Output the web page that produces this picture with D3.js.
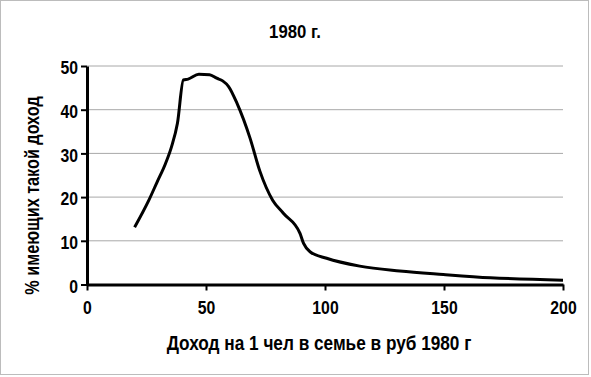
<!DOCTYPE html>
<html>
<head>
<meta charset="utf-8">
<script src="https://cdn.jsdelivr.net/npm/d3@7"></script>
<style>
  body { margin: 0; background: #fff; }
  text { font-family: "Liberation Sans", Arial, sans-serif; font-weight: bold; fill: #000; }
</style>
</head>
<body>
<div id="chart"></div>
<script>
// Доход на 1 чел (руб) и доля имеющих такой доход (%)
const income = [20, 26, 29.5, 33, 35.5, 38, 40.5, 42.5, 47, 51.5, 54.5, 57, 59.5, 63, 68.5, 72.6, 78, 82.5, 89.5, 91, 93.7, 100.7, 114.6, 131.4, 149.7, 169.5, 200];
const share  = [13.1, 19.3, 23.5, 27.7, 31.5, 36.9, 46.8, 47, 48.1, 48, 47.2, 46.6, 45.3, 41.5, 33.5, 26, 19.3, 16.3, 11.7, 9.4, 7.5, 6.0, 4.2, 3.1, 2.3, 1.55, 1.0];
const xTicks = [0, 50, 100, 150, 200];
const yTicks = [0, 10, 20, 30, 40, 50];

const width = 591, height = 377;
const margin = { left: 87, right: 28, top: 66, bottom: 92.5 };

// сжатие шрифта по ширине (в оригинале узкий шрифт)
function condense(sel, k) {
    sel.each(function () {
        const w = this.getComputedTextLength();
        d3.select(this)
            .attr("textLength", w * k)
            .attr("lengthAdjust", "spacingAndGlyphs");
    });
}

const svg = d3.select("#chart").append("svg")
    .attr("width", width)
    .attr("height", height);

// рамка вокруг диаграммы
svg.append("rect")
    .attr("x", 0.5).attr("y", 0.5)
    .attr("width", 588).attr("height", 374)
    .attr("fill", "none")
    .attr("stroke", "#bcbcbc");

const x = d3.scaleLinear().domain([0, 200]).range([margin.left, width - margin.right]);
const y = d3.scaleLinear().domain([0, 50]).range([height - margin.bottom, margin.top]);

// горизонтальная сетка
svg.append("g")
    .selectAll("line")
    .data(yTicks.filter(d => d > 0))
    .join("line")
    .attr("x1", x(0)).attr("x2", x(200))
    .attr("y1", d => y(d)).attr("y2", d => y(d))
    .attr("stroke", "#a8a8a8")
    .attr("stroke-width", 1);

// оси
const xAxis = svg.append("g")
    .attr("transform", `translate(0,${y(0)})`)
    .call(d3.axisBottom(x).tickValues(xTicks).tickSize(6).tickPadding(11).tickSizeOuter(0));
const yAxis = svg.append("g")
    .attr("transform", `translate(${x(0)},0)`)
    .call(d3.axisLeft(y).tickValues(yTicks).tickSize(6).tickPadding(3).tickSizeOuter(0));

[xAxis, yAxis].forEach(g => {
    g.select(".domain").attr("stroke", "#000").attr("stroke-width", 3);
    g.selectAll(".tick line").attr("stroke", "#000").attr("stroke-width", 2);
    g.selectAll(".tick text")
        .style("font-family", "'Liberation Sans', Arial, sans-serif")
        .style("font-weight", "bold")
        .style("font-size", "17.5px")
        .attr("fill", "#000")
        .call(condense, 0.9);
});
xAxis.selectAll(".tick text").attr("dy", "0.71em");
yAxis.selectAll(".tick text").attr("dy", "0.44em");

// кривая распределения
const line = d3.line()
    .x((d, i) => x(income[i]))
    .y(d => y(d))
    .curve(d3.curveMonotoneX);

svg.append("path")
    .datum(share)
    .attr("d", line)
    .attr("fill", "none")
    .attr("stroke", "#000")
    .attr("stroke-width", 3)
    .attr("stroke-linejoin", "round");

// заголовки
svg.append("text")
    .attr("x", 295).attr("y", 38)
    .attr("text-anchor", "middle")
    .style("font-size", "19px")
    .text("1980 г.")
    .call(condense, 0.88);

svg.append("text")
    .attr("x", 319).attr("y", 350)
    .attr("text-anchor", "middle")
    .style("font-size", "20px")
    .text("Доход на 1 чел в семье в руб 1980 г")
    .call(condense, 0.86);

svg.append("text")
    .attr("transform", "translate(39,195.5) rotate(-90)")
    .attr("text-anchor", "middle")
    .style("font-size", "20px")
    .text("% имеющих такой доход")
    .call(condense, 0.81);
</script>
</body>
</html>
